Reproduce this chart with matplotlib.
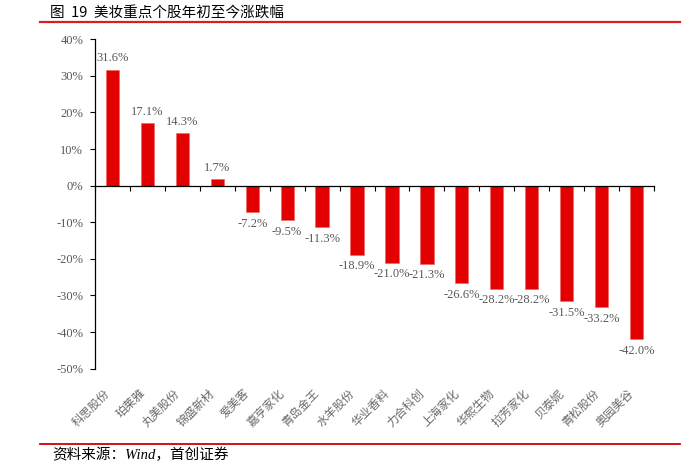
import matplotlib
matplotlib.use("Agg")
import matplotlib.pyplot as plt
from matplotlib.lines import Line2D
from matplotlib.transforms import ScaledTranslation
import numpy as np

categories = ["科思股份", "珀莱雅", "丸美股份", "锦盛新材", "爱美客", "嘉亨家化", "青岛金王", "水羊股份",
              "华业香料", "力合科创", "上海家化", "华熙生物", "拉芳家化", "贝泰妮", "青松股份", "奥园美谷"]
values = [31.6, 17.1, 14.3, 1.7, -7.2, -9.5, -11.3, -18.9, -21.0, -21.3, -26.6, -28.2, -28.2, -31.5, -33.2, -42.0]
yticks = [40, 30, 20, 10, 0, -10, -20, -30, -40, -50]
title = "图  19  美妆重点个股年初至今涨跌幅"
source = "资料来源：Wind，首创证券"

W, H = 700, 465
fig = plt.figure(figsize=(W / 100, H / 100), dpi=100)
ax = fig.add_axes([95 / W, 1 - 368.7 / H, (654 - 95) / W, (368.7 - 39.3) / H])

gray = "#595959"
serif = ["Liberation Serif", "Noto Sans CJK SC"]
cjk = ["Noto Sans CJK SC", "DejaVu Sans"]

x = np.arange(len(categories))
ax.bar(x, values, width=0.38, color="#E30000", edgecolor="#F06060", linewidth=0.4, zorder=2)

ax.set_xlim(-0.5, len(categories) - 0.5)
ax.set_ylim(-50, 40)
ax.set_yticks(yticks)
ax.set_yticklabels([f"{v}%" for v in yticks], fontfamily=serif, fontsize=9, color=gray)
ax.tick_params(axis="y", direction="out", length=3.5, width=0.8, pad=5, colors="black", labelcolor=gray)

ax.spines["top"].set_visible(False)
ax.spines["right"].set_visible(False)
ax.spines["bottom"].set_position(("data", 0))
ax.spines["left"].set_linewidth(0.9)
ax.spines["bottom"].set_linewidth(0.9)
ax.set_xticks(np.arange(len(categories) + 1) - 0.5)
ax.set_xticklabels([])
ax.tick_params(axis="x", direction="out", length=3.5, width=0.8)

# category labels
off = ScaledTranslation(0, -18 / 100, fig.dpi_scale_trans)
for xi, c in zip(x, categories):
    ax.text(xi, 0, c, transform=ax.get_xaxis_transform() + off, rotation=45,
            ha="right", va="top", fontfamily=cjk, fontsize=8.5, color="#6a6a6a", fontweight="light")

# value labels
for xi, v in zip(x, values):
    if v >= 0:
        ax.annotate(f"{v:.1f}%", (xi, v), xytext=(0, 4), textcoords="offset points",
                    ha="center", va="bottom", fontfamily=serif, fontsize=9, color=gray)
    else:
        ax.annotate(f"{v:.1f}%", (xi, v), xytext=(0, -4), textcoords="offset points",
                    ha="center", va="top", fontfamily=serif, fontsize=9, color=gray)

# title and decorative lines
fig.text(50 / W, 1 - 13 / H, title, ha="left", va="center", fontfamily=cjk, fontsize=10.5,
         fontweight="medium", color="black")
fig.add_artist(Line2D([40 / W, 680 / W], [1 - 22 / H, 1 - 22 / H], color="#D42020", linewidth=1.6))
fig.add_artist(Line2D([40 / W, 680 / W], [1 - 444 / H, 1 - 444 / H], color="#D00000", linewidth=1.3))
fig.text(52 / W, 1 - 455 / H, source, ha="left", va="center", fontfamily=serif, fontstyle="italic",
         fontsize=10.5, color="black")

fig.savefig("out.png", dpi=100)
